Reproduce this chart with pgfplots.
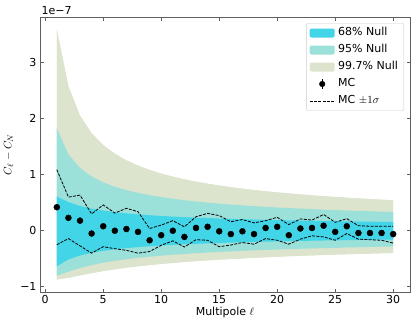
\documentclass[border=0pt]{standalone}
\usepackage{fontspec}
\setmainfont{DejaVu Sans}
\usepackage{pgfplots}
\usepgfplotslibrary{fillbetween}
\pgfplotsset{compat=1.18}
\usepackage{pgfplotstable}
\definecolor{c68}{RGB}{66,213,232}
\definecolor{c95}{RGB}{156,224,218}
\definecolor{c997}{RGB}{220,228,205}
\definecolor{spine}{RGB}{95,95,95}

\pgfplotstableread{
l u997 l997 u95 l95 u68 l68
1 3.590 -0.870 1.830 -0.800 0.610 -0.635
2 2.573 -0.839 1.361 -0.731 0.511 -0.511
3 2.051 -0.796 1.120 -0.664 0.441 -0.441
4 1.739 -0.756 0.969 -0.612 0.394 -0.394
5 1.527 -0.719 0.864 -0.570 0.359 -0.359
6 1.373 -0.687 0.785 -0.536 0.332 -0.332
7 1.255 -0.659 0.724 -0.508 0.310 -0.310
8 1.161 -0.634 0.675 -0.484 0.292 -0.292
9 1.084 -0.612 0.634 -0.463 0.277 -0.277
10 1.019 -0.592 0.600 -0.445 0.264 -0.264
11 0.964 -0.574 0.570 -0.428 0.252 -0.252
12 0.917 -0.557 0.545 -0.414 0.242 -0.242
13 0.875 -0.542 0.522 -0.401 0.234 -0.234
14 0.839 -0.528 0.502 -0.389 0.226 -0.226
15 0.806 -0.516 0.484 -0.378 0.218 -0.218
16 0.777 -0.504 0.467 -0.368 0.212 -0.212
17 0.750 -0.493 0.453 -0.359 0.206 -0.206
18 0.726 -0.482 0.439 -0.351 0.200 -0.200
19 0.704 -0.473 0.427 -0.343 0.195 -0.195
20 0.684 -0.464 0.415 -0.335 0.190 -0.190
21 0.665 -0.455 0.405 -0.328 0.186 -0.186
22 0.648 -0.447 0.395 -0.322 0.182 -0.182
23 0.632 -0.439 0.386 -0.316 0.178 -0.178
24 0.616 -0.432 0.377 -0.310 0.174 -0.174
25 0.602 -0.425 0.369 -0.305 0.171 -0.171
26 0.589 -0.419 0.361 -0.299 0.168 -0.168
27 0.577 -0.413 0.354 -0.294 0.165 -0.165
28 0.565 -0.407 0.347 -0.290 0.162 -0.162
29 0.554 -0.401 0.341 -0.285 0.159 -0.159
30 0.544 -0.395 0.335 -0.281 0.157 -0.157
}\bands

\pgfplotstableread{
l mc up lo
1 0.42 1.09 -0.25
2 0.23 0.60 -0.14
3 0.18 0.635 -0.27
4 -0.05 0.30 -0.40
5 0.08 0.46 -0.285
6 0.00 0.315 -0.32
7 0.03 0.40 -0.35
8 -0.02 0.34 -0.40
9 -0.17 0.04 -0.37
10 -0.08 0.10 -0.26
11 0.00 0.18 -0.18
12 -0.11 0.07 -0.29
13 0.05 0.25 -0.16
14 0.07 0.31 -0.17
15 -0.01 0.27 -0.285
16 -0.06 0.16 -0.255
17 -0.01 0.20 -0.21
18 -0.06 0.14 -0.24
19 0.05 0.18 -0.14
20 0.07 0.24 -0.17
21 -0.08 0.11 -0.24
22 0.04 0.21 -0.15
23 0.05 0.19 -0.09
24 0.09 0.29 -0.11
25 -0.02 0.15 -0.17
26 0.08 0.215 -0.05
27 -0.04 0.09 -0.15
28 -0.04 0.08 -0.16
29 -0.04 0.08 -0.17
30 -0.06 0.08 -0.22
}\mcdata

\begin{document}
\begin{tikzpicture}
\begin{axis}[name=ax, scale only axis, width=370pt, height=275pt,
  xmin=-0.45, xmax=31.45, ymin=-1.093, ymax=3.813,
  xtick={0,5,10,15,20,25,30}, xticklabels={0,5,10,15,20,25,30},
  ytick={-1,0,1,2,3}, yticklabels={−1,0,1,2,3},
  scaled ticks=false,
  tick align=inside, major tick length=3.5pt,
  axis line style={spine, line width=0.8pt},
  tick style={spine, line width=0.8pt},
  ticklabel style={font=\fontsize{11}{13}\selectfont},
  label style={font=\fontsize{11}{13}\selectfont},
  xlabel={Multipole $\ell$}, ylabel={$C_\ell - C_N$},
  xlabel style={at={(axis description cs:0.5,-0.0727)}, anchor=center},
  ylabel style={at={(axis description cs:-0.085,0.5)}, anchor=center},
  legend cell align=left,
  legend style={at={(0.984,0.978)}, anchor=north east, draw=black!20,
    rounded corners=2pt, fill=white, font=\fontsize{11}{13}\selectfont,
    inner xsep=3pt, inner ysep=4pt, row sep=5.5pt,
    nodes={inner xsep=3pt, inner ysep=0pt, text height=8.5pt, text depth=3pt},
    /tikz/every even column/.append style={column sep=6pt}},
]
\addplot[draw=none, name path=A, forget plot] table[x=l, y=u997]{\bands};
\addplot[draw=none, name path=B, forget plot] table[x=l, y=l997]{\bands};
\addplot[draw=none, name path=C, forget plot] table[x=l, y=u95]{\bands};
\addplot[draw=none, name path=D, forget plot] table[x=l, y=l95]{\bands};
\addplot[draw=none, name path=E, forget plot] table[x=l, y=u68]{\bands};
\addplot[draw=none, name path=F, forget plot] table[x=l, y=l68]{\bands};

\addplot[fill=c68, draw=none, legend image code/.code={\fill[c68] (0pt,-4.5pt) rectangle (25pt,4.5pt);}] fill between[of=E and F];
\addlegendentry{68\% Null}
\addplot[fill=c95, draw=none, legend image code/.code={\fill[c95] (0pt,-4.5pt) rectangle (25pt,4.5pt);}] fill between[of=C and D];
\addlegendentry{95\% Null}
\addplot[fill=c997, draw=none, legend image code/.code={\fill[c997] (0pt,-4.5pt) rectangle (25pt,4.5pt);}] fill between[of=A and B];
\addlegendentry{99.7\% Null}

% redraw layering: 99.7 beneath 95 beneath 68
\addplot[fill=c997, draw=none, forget plot] fill between[of=A and B];
\addplot[fill=c95, draw=none, forget plot] fill between[of=C and D];
\addplot[fill=c68, draw=none, forget plot] fill between[of=E and F];

\addplot[black, line width=0.8pt, dash pattern=on 3pt off 1.3pt, forget plot] table[x=l, y=up]{\mcdata};
\addplot[black, line width=0.8pt, dash pattern=on 3pt off 1.3pt, forget plot] table[x=l, y=lo]{\mcdata};

\addplot[only marks, mark=*, mark size=3pt, black,
  legend image code/.code={\draw[black, line width=0.9pt] (12.5pt,-5pt) -- (12.5pt,5pt); \fill[black] (12.5pt,0pt) circle (2.8pt);}]
  table[x=l, y=mc]{\mcdata};
\addlegendentry{MC}
\addlegendimage{legend image code/.code={\draw[black, line width=0.8pt, dash pattern=on 3pt off 1.3pt] (0pt,0pt) -- (25pt,0pt);}}
\addlegendentry{MC $\pm1\sigma$}
\end{axis}
\node[anchor=south west, inner sep=0pt, font=\fontsize{11}{13}\selectfont] at ([xshift=1.5pt,yshift=2.5pt]ax.north west) {1e−7};
\pgfresetboundingbox
\path ([shift={(-40pt,-35pt)}]ax.south west) rectangle ([shift={(6pt,17pt)}]ax.north east);
\end{tikzpicture}
\end{document}
